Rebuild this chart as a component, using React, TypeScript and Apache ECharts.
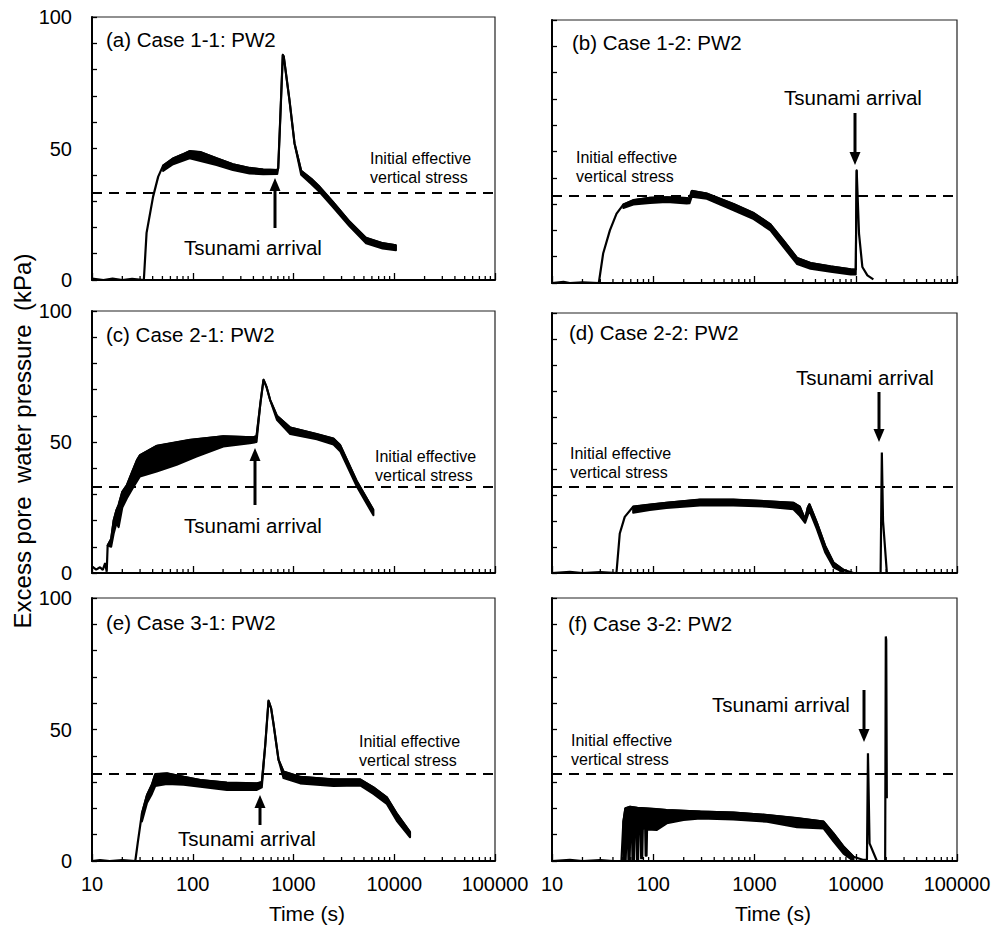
import React, { useEffect, useRef } from "react";
import * as echarts from "echarts";

const FONT = '"Liberation Sans", Arial, sans-serif';

// ---- tick labels / reference values ----
const xTickLabels = ["10", "100", "1000", "10000", "100000"];
const yTickValues = [0, 50, 100];
const minorTickTimes = [
  20, 30, 40, 50, 60, 70, 80, 90,
  200, 300, 400, 500, 600, 700, 800, 900,
  2000, 3000, 4000, 5000, 6000, 7000, 8000, 9000,
  20000, 30000, 40000, 50000, 60000, 70000, 80000, 90000,
];
const initialEffectiveStress = 33;

const panelTitles = [
  "(a) Case 1-1: PW2",
  "(b) Case 1-2: PW2",
  "(c) Case 2-1: PW2",
  "(d) Case 2-2: PW2",
  "(e) Case 3-1: PW2",
  "(f) Case 3-2: PW2",
];

// ---- series: [time (s), excess pore water pressure (kPa)] ----
// upper trace of each record
const caseA: number[][] = [
  [10, 0.5], [13, 0], [16, 0.5], [20, 0], [25, 0.4], [32.7, 0], [34.8, 17.9], [40.4, 31.7],
  [45.4, 39.3], [50.8, 43.5], [63.8, 46.2], [80, 47.8], [93, 49], [120, 48.6], [172, 46.3],
  [250, 44], [366, 42.6], [500, 42], [690, 41.8], [705, 42.5], [740, 62], [783, 85.6],
  [800, 85], [912, 68.4], [1023, 52], [1191, 41.5], [1500, 38.5], [1807, 35.5], [2449, 29.8],
  [3581, 22.3], [5250, 16], [7660, 14], [10400, 13.2],
];
// lower edge of the noisy band
const caseALow: number[][] = [
  [50.8, 41.5], [63.8, 44], [93, 46.3], [172, 43.7], [250, 41.8], [366, 40.5], [500, 40.2],
  [690, 40.3], [705, 42.5], [740, 62], [783, 85.6], [800, 85], [912, 68.4], [1023, 52],
  [1191, 40], [1500, 36.5], [1807, 33.5], [2449, 27.8], [3581, 20.5], [5250, 14], [7660, 12],
  [10400, 11.3],
];

const caseB: number[][] = [
  [10, 0], [13, 0.4], [15, 0], [20, 0.2], [29, 0], [32, 11.2], [37.3, 20], [43.4, 26.4],
  [50.6, 29.8], [63.6, 31.5], [93, 32.4], [136, 32.6], [214, 32.3], [228, 32], [240, 35],
  [338, 34], [622, 30], [982, 26.6], [1436, 22.3], [1946, 16], [2636, 9.5], [3573, 7.6],
  [5633, 6.3], [8906, 5.2], [10000, 5], [10210, 42.9], [10770, 18.8], [11620, 6.1],
  [13030, 2.9], [14930, 1.4],
];
const caseBLow: number[][] = [
  [50.6, 28.5], [63.6, 29.8], [93, 30.4], [136, 30.8], [214, 30.2], [228, 30.3], [240, 32.8],
  [338, 32], [622, 27.6], [982, 24.3], [1436, 20], [1946, 13.5], [2636, 7.2], [3573, 5.4],
  [5633, 4.3], [8906, 3.2], [10000, 3.2], [10210, 42.9],
];

const caseC: number[][] = [
  [10, 2.5], [11, 1.3], [12, 2.2], [12.8, 1.2], [13.5, 3.8], [14, 0.5], [14.3, 10.5],
  [15.5, 13], [16.4, 20], [17.5, 24], [18.4, 26], [20, 31], [22.2, 33.5], [25, 38.5],
  [27.9, 43], [30, 45], [43.8, 48.5], [94, 50.8], [201, 52.2], [400, 51.8], [430, 52.2],
  [470, 65], [504, 73.8], [540, 71], [587, 66], [684, 60], [927, 55.5], [1703, 53],
  [2493, 51.3], [2904, 48.8], [4249, 35], [6213, 24],
];
const caseCLow: number[][] = [
  [14.3, 10.5], [15.5, 10], [16.4, 15], [17.5, 19], [18.4, 17.5], [20, 25], [22.2, 28.5],
  [25, 32], [29.9, 36.8], [43.8, 38.7], [69.2, 41.3], [109, 44.4], [201, 48.3], [369, 49.5],
  [430, 50], [470, 65], [504, 73.8], [540, 71], [587, 66], [684, 58.5], [927, 53],
  [1703, 51], [2493, 49], [2904, 46.5], [4249, 33], [6213, 22],
];

const caseD: number[][] = [
  [10, 0], [15, 0.4], [20, 0], [30, 0.3], [43.3, 0], [46.7, 15.2], [52.3, 21.6], [63.3, 25.5],
  [92.5, 26.3], [135, 27], [289, 28.2], [618, 28.2], [1320, 27.6], [2421, 27], [2800, 25.5],
  [3160, 20.6], [3350, 25], [3483, 26.5], [4120, 19.5], [4980, 10.5], [6025, 4], [7565, 1.2],
  [9500, 0], [17600, 0], [18100, 46.3], [18600, 20], [20300, 0],
];
const caseDLow: number[][] = [
  [63.3, 23.2], [92.5, 24.2], [135, 25], [289, 26], [618, 26], [1320, 25.5], [2421, 24.5],
  [2800, 22], [3160, 19.3], [3483, 24], [4120, 17], [4980, 8], [6025, 2.2], [7565, 0.2],
];

const caseE: number[][] = [
  [10, 0], [12, 0.3], [15, 0], [20, 0.3], [26.9, 0], [28.4, 6.7], [31.3, 18.1], [35.1, 25],
  [39.3, 29], [42.4, 33], [55.5, 33.3], [81.1, 32], [118.6, 30.8], [218, 29.8], [433, 29.5],
  [485, 30], [524, 44], [565, 61], [600, 58], [634, 52], [710, 38.5], [796, 34], [1164, 32],
  [2494, 31], [4585, 31], [6213, 28], [8433, 24.2], [10590, 18], [14360, 11],
];
const caseELow: number[][] = [
  [31.3, 15], [35.1, 22], [39.3, 25.5], [42.4, 28.5], [55.5, 29.3], [81.1, 29], [118.6, 28.2],
  [218, 27], [433, 27], [485, 28], [524, 44], [565, 61], [600, 58], [634, 52], [710, 38.5],
  [796, 31.5], [1164, 29.5], [2494, 28.5], [4585, 28.7], [6213, 25.5], [8433, 21.7],
  [10590, 15.3], [14360, 9],
];

const caseF: number[][] = [
  [10, 0], [15, 0.4], [20, 0], [30, 0.3], [40, 0], [48.5, 0], [50.7, 15], [53, 20], [59, 20.6],
  [70, 20.2], [100, 19.8], [136, 19.4], [292, 18.8], [618, 18.4], [1329, 17.5], [2629, 16.3],
  [4800, 15], [6025, 10.5], [7565, 5.5], [9500, 1.6], [11940, 0.4], [12900, 0.5], [13200, 41],
  [13690, 6.7], [16180, 0], [19520, 0], [19810, 85.4], [20000, 84], [20270, 23.9],
];
const caseFLow: number[][] = [
  [50.7, 0], [53.5, 0], [54.5, 10], [56, 11], [56.8, 0], [58.5, 0], [59.5, 12], [61.5, 12],
  [62.3, 0], [64.5, 0], [65.5, 12], [68, 13], [68.8, 0], [71, 0], [72, 12], [75, 13],
  [75.8, 1], [78, 1], [79, 12], [83, 13], [84, 2], [86, 2], [87, 12], [108.6, 11.8],
  [136, 14.3], [199, 15.6], [292, 16.2], [618, 15.8], [1329, 14.9], [2629, 12.8],
  [4800, 12.4], [6025, 7.5], [7565, 2.8], [9500, 0],
];

const mainSeries = [caseA, caseB, caseC, caseD, caseE, caseF];
const lowSeries = [caseALow, caseBLow, caseCLow, caseDLow, caseELow, caseFLow];

// ---- layout (pixels) ----
const grids = [
  { left: 92, top: 17, width: 403, height: 263 },
  { left: 552, top: 20, width: 405, height: 263 },
  { left: 92, top: 311, width: 403, height: 262 },
  { left: 552, top: 313, width: 405, height: 260 },
  { left: 92, top: 598, width: 403, height: 263 },
  { left: 552, top: 598, width: 405, height: 263 },
];
const titlePos = [[106, 39], [572, 42], [106, 334], [569, 332], [106, 622], [568, 623]];
const stressTextPos = [[370, 158], [576, 157], [375, 456], [570, 453], [359, 741], [571, 740]];
const tsunamiTextPos = [[253, 247], [853, 97], [253, 525], [865, 377], [247, 838], [781, 704]];
// arrows: [x, tail y, tip y]
const arrows = [[275, 228, 178], [855, 113, 165], [255, 505, 448], [879, 392, 442], [260, 825, 795], [864, 690, 742]];

function buildOption() {
  const graphic: any[] = [];
  const txt = (x: number, y: number, text: string, size: number, align = "left", extra: any = {}) => ({
    type: "text",
    x,
    y,
    silent: true,
    ...extra,
    style: {
      text,
      font: `${size}px ${FONT}`,
      fill: "#000",
      align,
      textAlign: align,
      verticalAlign: "middle",
      textVerticalAlign: "middle",
    },
  });

  for (let i = 0; i < 6; i++) {
    graphic.push(txt(titlePos[i][0], titlePos[i][1], panelTitles[i], 20.5));
    graphic.push(txt(stressTextPos[i][0], stressTextPos[i][1], "Initial effective", 16));
    graphic.push(txt(stressTextPos[i][0], stressTextPos[i][1] + 19, "vertical stress", 16));
    graphic.push(txt(tsunamiTextPos[i][0], tsunamiTextPos[i][1], "Tsunami arrival", 20.5, "center"));
    const [ax, tail, tip] = arrows[i];
    const dir = tip > tail ? 1 : -1;
    const base = tip - dir * 13;
    graphic.push({
      type: "line",
      silent: true,
      shape: { x1: ax, y1: tail, x2: ax, y2: base },
      style: { stroke: "#000", lineWidth: 3 },
    });
    graphic.push({
      type: "polygon",
      silent: true,
      shape: { points: [[ax - 5.5, base], [ax + 5.5, base], [ax, tip]] },
      style: { fill: "#000" },
    });
  }
  graphic.push(txt(307, 913, "Time (s)", 21, "center"));
  graphic.push(txt(773, 913, "Time (s)", 21, "center"));
  graphic.push(
    txt(22, 441, "Excess pore  water pressure  (kPa)", 24, "center", { rotation: Math.PI / 2 })
  );

  const xAxis: any[] = [];
  const yAxis: any[] = [];
  const series: any[] = [];
  for (let i = 0; i < 6; i++) {
    const main = mainSeries[i];
    const low = lowSeries[i];
    xAxis.push({
      gridIndex: i,
      type: "log",
      logBase: 10,
      min: 10,
      max: 100000,
      axisLine: { show: true, onZero: false, lineStyle: { color: "#000", width: 2 } },
      axisTick: { show: true, inside: true, length: 7, lineStyle: { color: "#000", width: 1.3 } },
      axisLabel: {
        show: i >= 4,
        color: "#000",
        fontSize: 20,
        fontFamily: FONT,
        margin: 13,
        showMinLabel: true,
        showMaxLabel: true,
        formatter: (v: number) => {
          const idx = Math.round(Math.log10(v)) - 1;
          return xTickLabels[idx] ?? String(Math.round(v));
        },
      },
      splitLine: { show: false },
    });
    yAxis.push({
      gridIndex: i,
      type: "value",
      min: yTickValues[0],
      max: yTickValues[2],
      interval: 50,
      axisLine: { show: true, lineStyle: { color: "#000", width: 2 } },
      axisTick: { show: true, inside: true, length: 5, lineStyle: { color: "#000", width: 1.3 } },
      minorTick: { show: true, splitNumber: 5, length: 5, lineStyle: { color: "#000", width: 1.3 } },
      axisLabel: { show: i % 2 === 0, color: "#000", fontSize: 20, fontFamily: FONT, margin: 20 },
      splitLine: { show: false },
      minorSplitLine: { show: false },
    });
    // filled noisy band between the upper trace and its lower edge
    series.push({
      type: "custom",
      xAxisIndex: i,
      yAxisIndex: i,
      silent: true,
      data: [[low[0][0], low[0][1]]],
      renderItem: (_p: any, api: any) => {
        const t0 = low[0][0];
        const t1 = low[low.length - 1][0];
        const up = main.filter((p) => p[0] >= t0 && p[0] <= t1);
        const pts = [...up, ...[...low].reverse()].map((p) => api.coord(p));
        return {
          type: "polygon",
          shape: { points: pts },
          style: { fill: "#000", stroke: "#000", lineWidth: 2, lineJoin: "round" },
        };
      },
      z: 2,
    });
    series.push({
      type: "line",
      xAxisIndex: i,
      yAxisIndex: i,
      data: main,
      symbol: "none",
      showSymbol: false,
      lineStyle: { color: "#000", width: 2.2 },
      z: 3,
      markLine: {
        silent: true,
        symbol: ["none", "none"],
        label: { show: false },
        lineStyle: { color: "#000", width: 2, type: [10, 7] },
        data: [{ yAxis: initialEffectiveStress }],
      },
    });
    series.push({
      type: "custom",
      xAxisIndex: i,
      yAxisIndex: i,
      silent: true,
      data: minorTickTimes.map((t) => [t, 0]),
      renderItem: (_p: any, api: any) => {
        const pt = api.coord([api.value(0), 0]);
        return {
          type: "line",
          shape: { x1: pt[0], y1: pt[1], x2: pt[0], y2: pt[1] - 4 },
          style: { stroke: "#000", lineWidth: 1.3 },
        };
      },
      z: 4,
    });
  }

  return {
    animation: false,
    backgroundColor: "#fff",
    grid: grids.map((g) => ({ ...g, show: true, borderColor: "#222", borderWidth: 1.2, backgroundColor: "transparent" })),
    xAxis,
    yAxis,
    series,
    graphic,
  };
}

export default function App() {
  const ref = useRef<HTMLDivElement>(null);
  useEffect(() => {
    if (!ref.current) return;
    const chart = echarts.init(ref.current, undefined, { renderer: "svg" });
    chart.setOption(buildOption() as any);
    return () => chart.dispose();
  }, []);
  return (
    <div
      ref={ref}
      style={{ position: "fixed", left: 0, top: 0, width: 997, height: 930, background: "#fff" }}
    />
  );
}
